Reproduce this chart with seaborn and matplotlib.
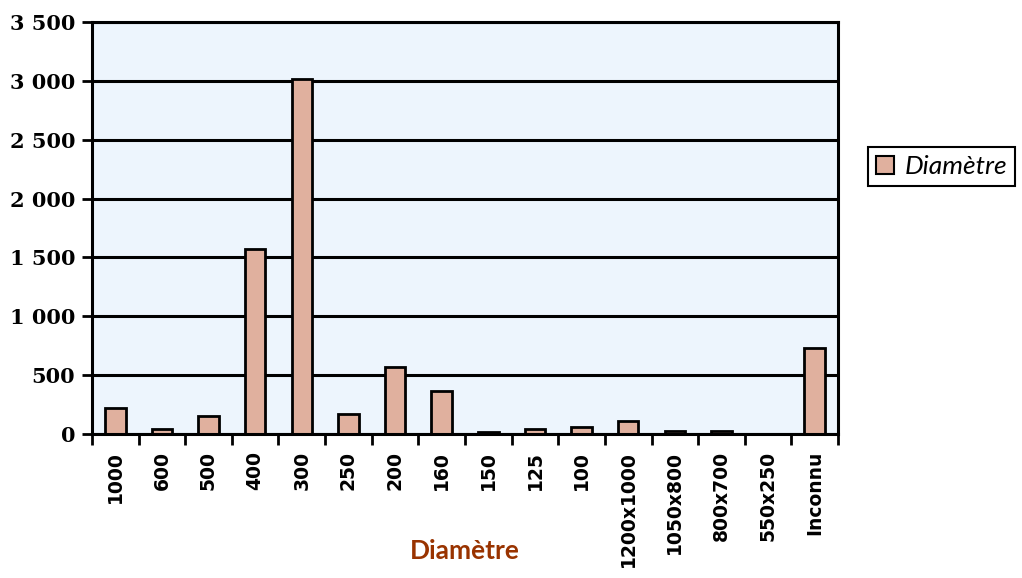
import pandas as pd
import matplotlib.pyplot as plt
import matplotlib.patches as mpatches
import matplotlib.ticker as mticker
import seaborn as sns

diametres = ["1000", "600", "500", "400", "300", "250", "200", "160", "150",
             "125", "100", "1200x1000", "1050x800", "800x700", "550x250", "Inconnu"]
nombres = [225, 45, 155, 1575, 3015, 170, 570, 365, 15,
           45, 60, 110, 25, 25, 2, 735]

df = pd.DataFrame({"Diametre": diametres, "Nombre": nombres})

bar_color = "#e0b09e"
bg_color = "#edf5fd"

sns.set_style("white")
plt.rcParams["text.color"] = "black"
plt.rcParams["xtick.color"] = "black"
plt.rcParams["ytick.color"] = "black"

fig = plt.figure(figsize=(10.22, 5.78), dpi=100)
ax = fig.add_axes([0.09, 0.249, 0.73, 0.713])
ax.set_facecolor(bg_color)

sns.barplot(data=df, x="Diametre", y="Nombre", color=bar_color,
            edgecolor="black", linewidth=2, width=0.44, saturation=1, ax=ax)

ax.set_xlim(-0.5, len(diametres) - 0.5)
ax.set_ylim(0, 3500)
ax.yaxis.set_major_locator(mticker.MultipleLocator(500))
ax.yaxis.set_major_formatter(
    mticker.FuncFormatter(lambda v, p: f"{int(v):,}".replace(",", " ")))
ax.grid(axis="y", color="black", linewidth=2.2)
ax.set_axisbelow(True)

for s in ax.spines.values():
    s.set_color("black")
    s.set_linewidth(2.2)

# x tick marks sit between categories
ax.set_xticks([i - 0.5 for i in range(len(diametres) + 1)], minor=True)
ax.tick_params(axis="x", which="minor", bottom=True, length=8, width=2,
               color="black", direction="out")
ax.tick_params(axis="x", which="major", bottom=False, length=0, pad=12,
               labelcolor="black")
ax.tick_params(axis="y", left=True, length=7, width=2, color="black",
               direction="out", pad=5, labelcolor="black")

plt.setp(ax.get_xticklabels(), rotation=90, fontweight="bold", fontsize=13.5,
         family="DejaVu Sans")
plt.setp(ax.get_yticklabels(), fontweight="bold", fontsize=15,
         family="DejaVu Serif")

ax.set_ylabel("")
ax.set_xlabel("Diamètre", color="#993300", fontsize=19, fontweight="bold",
              family="Lato")
ax.xaxis.set_label_coords(0.5, -0.255)

patch = mpatches.Patch(facecolor=bar_color, edgecolor="black", linewidth=1.5,
                       label="Diamètre")
leg = fig.legend(handles=[patch], loc="upper left",
                 bbox_to_anchor=(0.849, 0.745), fancybox=False,
                 framealpha=1, edgecolor="black", handlelength=0.7,
                 handleheight=0.7, handletextpad=0.4, borderpad=0.3,
                 borderaxespad=0,
                 prop={"family": "Lato", "style": "italic", "size": 19})
leg.get_frame().set_linewidth(1.5)

plt.savefig("out.png", dpi=100)
